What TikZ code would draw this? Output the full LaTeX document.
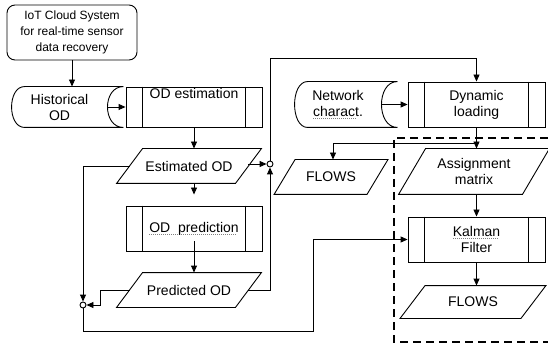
\documentclass[tikz,border=0pt]{standalone}
\usepackage{fontspec}
\setmainfont{Liberation Sans}
\usetikzlibrary{arrows.meta}

% spell-check style underline
\newcommand\spell[1]{\setbox0\hbox{#1}\rlap{\lower2.5pt\hbox to\wd0{\color{gray}\leaders\hbox{\vrule width 1.2pt height 0.7pt\kern0.8pt}\hfill}}\box0}

\tikzstyle{startbox}=[draw,rounded corners=8pt,align=center,minimum width=130pt,minimum height=55pt,font=\fontsize{12}{16}\selectfont]
\tikzstyle{procbox}=[draw,minimum width=136pt,minimum height=45pt,align=center]
\tikzstyle{storebox}=[minimum height=45pt,align=center,inner sep=0pt]
\tikzstyle{iobox}=[minimum height=34pt,align=center,inner sep=0pt]
\tikzstyle{joint}=[circle,draw,fill=white,inner sep=0pt,minimum size=6pt]
\tikzstyle{flowline}=[draw,-{Triangle[length=7pt,width=6pt]}]

\begin{document}
\begin{tikzpicture}[x=1pt,y=-1pt,line width=0.9pt,font=\fontsize{14}{16}\selectfont]
	\useasboundingbox (0,0) rectangle (548,347);
	% left column
	\node[startbox] (sys) at (72,32.5) {IoT Cloud System\\for real-time sensor\\data recovery};
	\node[storebox,minimum width=95pt,minimum height=40pt] (hist) at (59.5,107) {Historical\\OD};
	\node[procbox,minimum height=40pt,text height=10pt,text depth=26pt,inner ysep=0pt] (est) at (194,107) {OD estimation};
	\node[iobox,minimum width=118pt] (eOD) at (189,166) {Estimated OD};
	\node[procbox] (pr) at (194,228.5) {\spell{OD\ \ prediction}};
	\node[iobox,minimum width=118pt] (pOD) at (189,290) {Predicted OD};
	\node[joint] (j1) at (270,164) {};
	\node[joint] (j2) at (83,305) {};
	% right column
	\node[storebox,minimum width=86pt] (net) at (338,104.5) {Network\\\spell{charact}.};
	\node[procbox,minimum width=137pt] (dyn) at (476.5,104.5) {Dynamic\\loading};
	\node[iobox,minimum width=92pt] (fl1) at (331,177) {FLOWS};
	\node[iobox,minimum width=123pt,minimum height=45pt] (am) at (474,171.5) {Assignment\\matrix};
	\node[procbox,minimum width=137pt] (kal) at (476.5,239.5) {\spell{Kalman}\\Filter};
	\node[iobox,minimum width=120pt,minimum height=32pt] (fl2) at (473,302) {FLOWS};
	\coordinate (tp) at (270,58);
	\coordinate (br) at (476.5,143);
	\coordinate (k1) at (100,305);
	\coordinate (k2) at (313,331);

	% shapes of the boxes
	\foreach \n in {est,pr,dyn,kal}
		\draw ([xshift=17pt]\n.north west) -- ([xshift=17pt]\n.south west)
			([xshift=-17pt]\n.north east) -- ([xshift=-17pt]\n.south east);
	\foreach \n in {hist,net}
		\draw ([xshift=13pt]\n.north west) -- ([xshift=16pt]\n.north east)
			.. controls ([xshift=-5.3pt]\n.north east) and ([xshift=-5.3pt]\n.south east) .. ([xshift=16pt]\n.south east)
			-- ([xshift=13pt]\n.south west)
			.. controls ([xshift=-4.3pt]\n.south west) and ([xshift=-4.3pt]\n.north west) .. ([xshift=13pt]\n.north west) -- cycle;
	\foreach \n/\sl in {eOD/13,pOD/13,fl1/10.5,am/13.5,fl2/12.5}
		\draw ([xshift=-\sl pt]\n.south west) -- ([xshift=-\sl pt]\n.south east)
			-- ([xshift=\sl pt]\n.north east) -- ([xshift=\sl pt]\n.north west) -- cycle;

	% dashed frame
	\draw[line width=1.8pt,dash pattern=on 8pt off 5pt] (548,138) -- (394,138) -- (394,342) -- (548,342);

	% connectors
	\foreach \source/\dest in {hist/est,net/dyn}
		\path[flowline] (\source.east) -- (\dest.west);
	\path[flowline] (sys.south) -- (sys.south |- hist.north);
	\path[flowline] (est.south) -- (est.south |- eOD.north);
	\path[flowline] (pr.north |- eOD.south) -- ([yshift=11pt]pr.north);
	\path[flowline] ([yshift=10pt]pr.south) -- (pr.south |- pOD.north);
	\path[flowline] (eOD.east |- j1) -- (j1);
	\path[flowline] (pOD.east) -| (j1.south);
	\path[flowline] (j1.north) -- (tp) -| (dyn.north);
	\path[flowline] (eOD.west) -| (j2.north);
	\path[flowline] (pOD.west) -| (k1) -- (j2.east);
	\path[flowline] (j2.south) |- (k2) |- (kal.west);
	\path[flowline] (dyn.south) -- (dyn.south |- am.north);
	\path[flowline] (br) -| ([xshift=2pt]fl1.north);
	\path[flowline] (kal.north |- am.south) -- (kal.north);
	\path[flowline] (kal.south) -- (kal.south |- fl2.north);
\end{tikzpicture}
\end{document}
